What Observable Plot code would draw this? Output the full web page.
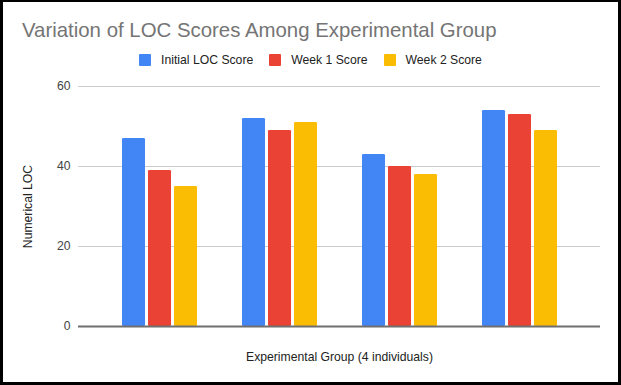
<!DOCTYPE html>
<html>
<head>
<meta charset="utf-8">
<script src="https://cdn.jsdelivr.net/npm/d3@7"></script>
<script src="https://cdn.jsdelivr.net/npm/@observablehq/plot@0.6"></script>
<style>
  html, body { margin: 0; padding: 0; background: #fff; }
  #chart { position: relative; width: 621px; height: 385px; background: #fff; overflow: hidden;
           font-family: "Liberation Sans", Arial, sans-serif; }
  #title { position: absolute; left: 22px; top: 20px; font-size: 20.4px; line-height: 1; color: #757575; white-space: nowrap; }
  #legend { position: absolute; left: 0; top: 54px; width: 621px; height: 12px; display: flex; justify-content: center; align-items: center; font-size: 12.2px; color: #222; }
  .item { display: flex; align-items: center; margin: 0 8px; white-space: nowrap; }
  .sw { width: 12px; height: 12px; margin-right: 10px; border-radius: 1px; }
  #plot { position: absolute; left: 0; top: 80px; }
  #frame { position: absolute; left: 0; top: 0; right: 0; bottom: 0; border-style: solid; border-color: #000; border-width: 2px 3px 3px 3px; pointer-events: none; }
</style>
</head>
<body>
<div id="chart">
  <div id="title"></div>
  <div id="legend"></div>
  <div id="plot"></div>
  <div id="frame"></div>
</div>
<script>
// ---- data ----
const titleText = "Variation of LOC Scores Among Experimental Group";
const xLabel = "Experimental Group (4 individuals)";
const yLabel = "Numerical LOC";
const groups = ["Individual 1", "Individual 2", "Individual 3", "Individual 4"];
const seriesNames = ["Initial LOC Score", "Week 1 Score", "Week 2 Score"];
const seriesColors = ["#4285F4", "#EA4335", "#FBBC04"];
const initialScores = [47, 52, 43, 54];
const week1Scores = [39, 49, 40, 53];
const week2Scores = [35, 51, 38, 49];
const yTicks = [0, 20, 40, 60];

const seriesValues = [initialScores, week1Scores, week2Scores];
const rows = [];
seriesNames.forEach((s, i) => groups.forEach((g, j) => rows.push({group: g, series: s, value: seriesValues[i][j]})));

// ---- header ----
document.getElementById("title").textContent = titleText;
const legend = document.getElementById("legend");
seriesNames.forEach((s, i) => {
  const item = document.createElement("div");
  item.className = "item";
  const sw = document.createElement("div");
  sw.className = "sw";
  sw.style.background = seriesColors[i];
  const t = document.createElement("span");
  t.textContent = s;
  item.appendChild(sw); item.appendChild(t);
  legend.appendChild(item);
});

// ---- chart ----
const barW = 23, gap = 3;
const barMarks = seriesNames.map((s, i) =>
  Plot.barY(rows.filter(d => d.series === s), {
    x: "group", y: "value", fill: seriesColors[i],
    insetLeft: i * (barW + gap), insetRight: (seriesNames.length - 1 - i) * (barW + gap),
    rx: 1.2
  })
);

const chart = Plot.plot({
  width: 621,
  height: 305,
  marginTop: 6,
  marginBottom: 59,
  marginLeft: 78,
  marginRight: 21,
  style: {fontFamily: "'Liberation Sans', Arial, sans-serif", fontSize: "12.2px", background: "transparent"},
  x: {domain: groups, paddingInner: 0.375, paddingOuter: 0.3625, axis: null},
  y: {domain: [0, 60], axis: null},
  marks: [
    Plot.gridY(yTicks, {stroke: "#cccccc", strokeOpacity: 1}),
    Plot.axisY(yTicks, {tickSize: 0, tickPadding: 8, label: null, fill: "#444", fontSize: 12.2}),
    ...barMarks,
    Plot.ruleY([0], {stroke: "#6f6f6f", strokeWidth: 2}),
    Plot.text([yLabel], {text: d => d, frameAnchor: "left", rotate: -90, dx: -50, textAnchor: "middle", lineAnchor: "middle", fill: "#222", fontSize: 12.2}),
    Plot.text([xLabel], {text: d => d, frameAnchor: "bottom", dy: 31, textAnchor: "middle", lineAnchor: "middle", fill: "#222", fontSize: 12.2})
  ]
});
document.getElementById("plot").appendChild(chart);
</script>
</body>
</html>
